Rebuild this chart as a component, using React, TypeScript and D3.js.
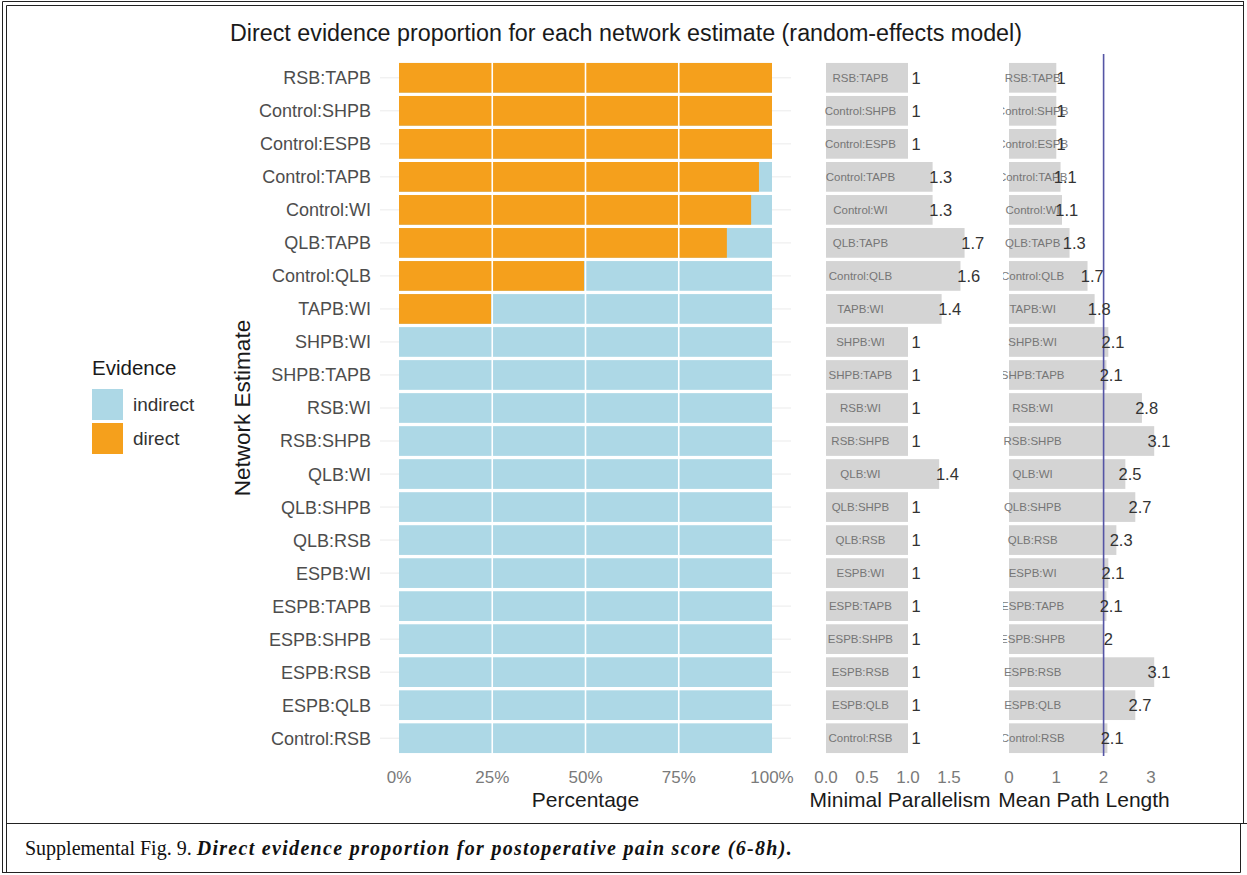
import React from "react";
import * as d3 from "d3";

const categories = [
  "RSB:TAPB", "Control:SHPB", "Control:ESPB", "Control:TAPB", "Control:WI",
  "QLB:TAPB", "Control:QLB", "TAPB:WI", "SHPB:WI", "SHPB:TAPB", "RSB:WI",
  "RSB:SHPB", "QLB:WI", "QLB:SHPB", "QLB:RSB", "ESPB:WI", "ESPB:TAPB",
  "ESPB:SHPB", "ESPB:RSB", "ESPB:QLB", "Control:RSB",
];
const directProportion = [1, 1, 1, 0.965, 0.944, 0.879, 0.496, 0.247, 0, 0, 0, 0, 0, 0, 0, 0, 0, 0, 0, 0, 0];
const minimalParallelism = [1, 1, 1, 1.3, 1.3, 1.69, 1.64, 1.41, 1, 1, 1, 1, 1.38, 1, 1, 1, 1, 1, 1, 1, 1];
const meanPathLength = [1, 1, 1, 1.09, 1.12, 1.28, 1.66, 1.81, 2.1, 2.06, 2.81, 3.07, 2.46, 2.67, 2.27, 2.1, 2.06, 2.0, 3.07, 2.67, 2.08];
const pctTicks = [0, 0.25, 0.5, 0.75, 1];
const mpTicks = [0, 0.5, 1, 1.5];
const mplTicks = [0, 1, 2, 3];
const evidenceKeys = ["indirect", "direct"];

const ORANGE = "#F5A01C";
const BLUE = "#ADD8E6";
const GREY = "#D4D4D4";
const FONT = "'Liberation Sans', Arial, Helvetica, sans-serif";

export default function App() {
  const W = 1247, H = 875;
  const y = d3.scalePoint<string>().domain(categories).range([58, 758]).padding(0.6);
  const bh = y.step() * 0.9;
  const x1 = d3.scaleLinear().domain([0, 1]).range([399, 772]);
  const x2 = d3.scaleLinear().domain([0, 1]).range([826, 908]);
  const x3 = d3.scaleLinear().domain([0, 1]).range([1009, 1056.3]);
  const pctFmt = d3.format(".0%");
  const f1 = d3.format(".1f");
  const lab = (v: number) => String(Math.round(v * 10) / 10);
  const tickY = 783;
  const titleY = 807;

  return (
    <svg width={W} height={H} style={{ display: "block", position: "absolute", left: 0, top: 0 }} fontFamily={FONT}>
      <rect x={0} y={0} width={W} height={H} fill="#fff" />
      <defs>
        <clipPath id="p2"><rect x={819} y={50} width={175} height={715} /></clipPath>
        <clipPath id="p3"><rect x={1003} y={50} width={200} height={715} /></clipPath>
      </defs>

      {/* frame */}
      <g stroke="#222" strokeWidth={1} fill="none">
        <line x1={2.5} y1={1.5} x2={2.5} y2={873} />
        <line x1={6.5} y1={5.5} x2={6.5} y2={873} />
        <line x1={2.5} y1={1.5} x2={1244} y2={1.5} />
        <line x1={6.5} y1={5.5} x2={1244} y2={5.5} />
        <line x1={1243.5} y1={1.5} x2={1243.5} y2={823.5} />
        <line x1={1240.5} y1={823.5} x2={1240.5} y2={872.5} />
        <line x1={6.5} y1={823.5} x2={1247} y2={823.5} />
        <line x1={2.5} y1={872.5} x2={1240.5} y2={872.5} />
      </g>

      {/* title */}
      <text x={626} y={41} textAnchor="middle" fontSize={23.3} fill="#1a1a1a">
        Direct evidence proportion for each network estimate (random-effects model)
      </text>

      {/* panel 1 grid stubs */}
      {categories.map((c) => (
        <line key={"g" + c} x1={380} x2={791} y1={y(c)} y2={y(c)} stroke="#EBEBEB" strokeWidth={1} />
      ))}
      {/* panel 1 bars */}
      {categories.map((c, i) => (
        <g key={"b" + c}>
          <rect x={x1(0)} y={y(c)! - bh / 2} width={x1(1) - x1(0)} height={bh} fill={BLUE} />
          {directProportion[i] > 0 && (
            <rect x={x1(0)} y={y(c)! - bh / 2} width={x1(directProportion[i]) - x1(0)} height={bh} fill={ORANGE} />
          )}
        </g>
      ))}
      {pctTicks.slice(1, 4).map((t) => (
        <line key={"v" + t} x1={x1(t)} x2={x1(t)} y1={58} y2={758} stroke="#fff" strokeWidth={1.6} />
      ))}
      {/* y tick labels */}
      {categories.map((c) => (
        <text key={"yl" + c} x={371} y={y(c)} dy="0.36em" textAnchor="end" fontSize={18} fill="#4d4d4d">{c}</text>
      ))}
      {pctTicks.map((t) => (
        <text key={"xt" + t} x={x1(t)} y={tickY} textAnchor="middle" fontSize={17} fill="#7a7a7a">{pctFmt(t)}</text>
      ))}
      <text x={x1(0.5)} y={titleY} textAnchor="middle" fontSize={21} fill="#1a1a1a">Percentage</text>
      <text transform={`translate(250,${(58 + 758) / 2}) rotate(-90)`} textAnchor="middle" fontSize={22.5} fill="#1a1a1a">Network Estimate</text>

      {/* legend */}
      <text x={92} y={375} fontSize={20.5} fill="#1a1a1a">Evidence</text>
      {evidenceKeys.map((k, i) => (
        <g key={k}>
          <rect x={92} y={389 + i * 34} width={31} height={31} fill={k === "direct" ? ORANGE : BLUE} />
          <text x={133} y={389 + i * 34 + 15.5} dy="0.36em" fontSize={19} fill="#333">{k}</text>
        </g>
      ))}

      {/* panel 2 */}
      <g clipPath="url(#p2)">
        {categories.map((c, i) => (
          <g key={"m" + c}>
            <rect x={x2(0)} y={y(c)! - bh / 2} width={x2(minimalParallelism[i]) - x2(0)} height={bh} fill={GREY} />
            <text x={x2(0.42)} y={y(c)} dy="0.36em" textAnchor="middle" fontSize={11.5} fill="#666" opacity={0.85}>{c}</text>
            <text x={x2(minimalParallelism[i] + 0.1)} y={y(c)} dy="0.36em" textAnchor="middle" fontSize={16.5} fill="#333">{lab(minimalParallelism[i])}</text>
          </g>
        ))}
      </g>
      {mpTicks.map((t) => (
        <text key={"mt" + t} x={x2(t)} y={tickY} textAnchor="middle" fontSize={17} fill="#7a7a7a">{f1(t)}</text>
      ))}
      <text x={900} y={titleY} textAnchor="middle" fontSize={21} fill="#1a1a1a">Minimal Parallelism</text>

      {/* panel 3 */}
      <g clipPath="url(#p3)">
        {categories.map((c, i) => (
          <g key={"p" + c}>
            <rect x={x3(0)} y={y(c)! - bh / 2} width={x3(meanPathLength[i]) - x3(0)} height={bh} fill={GREY} />
            <text x={x3(0.5)} y={y(c)} dy="0.36em" textAnchor="middle" fontSize={11.5} fill="#666" opacity={0.85}>{c}</text>
          </g>
        ))}
        <line x1={x3(2)} x2={x3(2)} y1={54} y2={756} stroke="#5555A5" strokeWidth={1.6} />
        {categories.map((c, i) => (
          <text key={"pv" + c} x={x3(meanPathLength[i] + 0.1)} y={y(c)} dy="0.36em" textAnchor="middle" fontSize={16.5} fill="#333">{lab(meanPathLength[i])}</text>
        ))}
      </g>
      {mplTicks.map((t) => (
        <text key={"pt" + t} x={x3(t)} y={tickY} textAnchor="middle" fontSize={17} fill="#7a7a7a">{t}</text>
      ))}
      <text x={1084} y={titleY} textAnchor="middle" fontSize={21} fill="#1a1a1a">Mean Path Length</text>

      {/* caption */}
      <text x={25} y={855} fontSize={20} fill="#111" fontFamily="'Liberation Serif', 'Times New Roman', serif">
        Supplemental Fig. 9. <tspan fontStyle="italic" fontWeight={600} letterSpacing={1.3}>Direct evidence proportion for postoperative pain score (6-8h).</tspan>
      </text>
    </svg>
  );
}
